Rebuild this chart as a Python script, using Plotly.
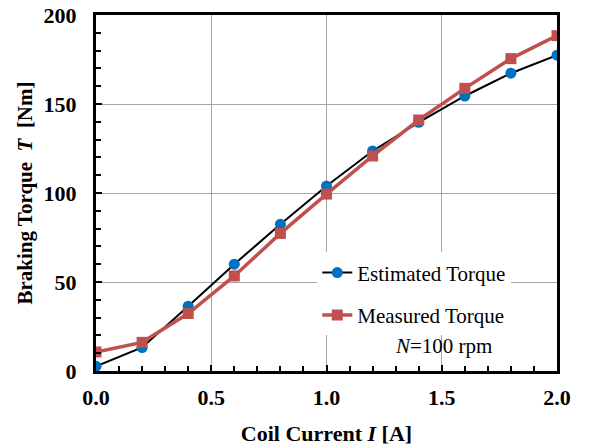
import plotly.graph_objects as go

current = [0.0, 0.2, 0.4, 0.6, 0.8, 1.0, 1.2, 1.4, 1.6, 1.8, 2.0]
estimated = [2.6, 13.2, 36.4, 60.0, 82.5, 103.9, 123.6, 139.7, 154.5, 167.3, 177.4]
measured = [10.7, 16.1, 32.3, 53.4, 77.3, 99.4, 120.8, 141.0, 158.8, 175.5, 188.4]

serif = "Liberation Serif, Times New Roman, serif"

fig = go.Figure()
fig.add_trace(go.Scatter(x=current, y=estimated, mode="lines+markers", name="Estimated Torque",
                         legendgroup="a",
                         line=dict(color="black", width=2),
                         marker=dict(symbol="circle", size=11, color="#0070C0")))
fig.add_trace(go.Scatter(x=current, y=measured, mode="lines+markers", name="Measured Torque",
                         legendgroup="b",
                         line=dict(color="#C0504D", width=3.5),
                         marker=dict(symbol="square", size=11, color="#C0504D")))

fig.add_annotation(text="<i>N</i>=100 rpm", xref="paper", yref="paper", x=0.753, y=0.07,
                   xanchor="center", yanchor="middle",
                   showarrow=False, font=dict(family=serif, size=21, color="black"))

axis_common = dict(showline=True, linecolor="black", linewidth=3, mirror=True,
                   showgrid=True, gridcolor="#A6A6A6", gridwidth=1, zeroline=False,
                   ticks="inside", ticklen=6, tickwidth=2, tickcolor="black", automargin=False,
                   tickfont=dict(family=serif, size=22, color="black", weight="bold"))

fig.update_xaxes(range=[0, 2.0], dtick=0.5, tickformat=".1f",
                 minor=dict(ticks="inside", dtick=0.1, ticklen=5, tickwidth=2, tickcolor="black", showgrid=False),
                 title=dict(text="Coil Current <i>I</i> [A]", standoff=17,
                            font=dict(family=serif, size=22, color="black", weight="bold")),
                 ticklabelstandoff=5, **axis_common)
fig.update_yaxes(range=[0, 200], dtick=50,
                 minor=dict(ticks="inside", dtick=10, ticklen=5, tickwidth=2, tickcolor="black", showgrid=False),
                 title=dict(text="Braking Torque  <i>T</i>  [Nm]", standoff=6,
                            font=dict(family=serif, size=21, color="black", weight="bold")),
                 ticklabelstandoff=12, **axis_common)

fig.update_layout(width=608, height=448,
                  margin=dict(l=96, r=51, t=15, b=77),
                  plot_bgcolor="white", paper_bgcolor="white",
                  showlegend=True,
                  legend=dict(x=0.48, y=0.333, xanchor="left", yanchor="top",
                              bgcolor="white", borderwidth=0, tracegroupgap=12,
                              traceorder="grouped",
                              font=dict(family=serif, size=21, color="black")))

# drop the default 8px page margin so the figure fills the window
fig.write_html("out.html", config={"displayModeBar": False},
               post_script="document.body.style.margin='0';")
